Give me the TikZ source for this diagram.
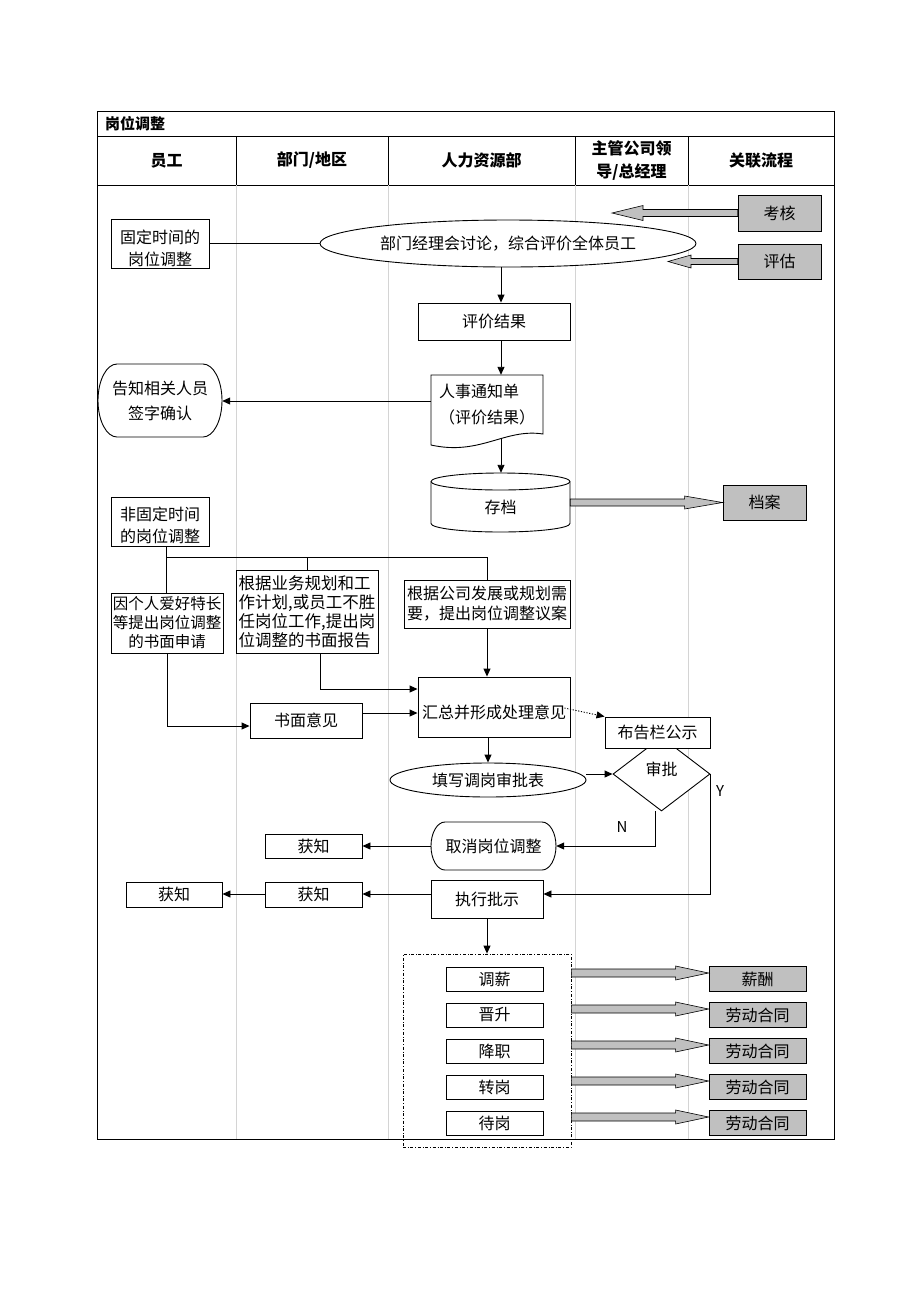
\documentclass[tikz,border=0pt]{standalone}
\usepackage{fontspec}
\setmainfont{Noto Sans CJK SC}
\usetikzlibrary{arrows.meta,shapes.geometric,shapes.misc,calc}
\definecolor{boxgray}{RGB}{192,192,192}
\definecolor{lanegray}{RGB}{212,212,212}
\newcommand\fsz[2]{\fontsize{#1pt}{#2pt}\selectfont}
\newcommand\fatR[5]{\draw[fat] let \p1=(#1), \p2=(#2) in (\x1,\y1+#3pt) -- (\x2-#5pt,\y1+#3pt) -- (\x2-#5pt,\y1+#4pt) -- (\x2,\y1) -- (\x2-#5pt,\y1-#4pt) -- (\x2-#5pt,\y1-#3pt) -- (\x1,\y1-#3pt) -- cycle;}
\newcommand\fatL[5]{\draw[fat] let \p1=(#1), \p2=(#2) in (\x1,\y1+#3pt) -- (\x2+#5pt,\y1+#3pt) -- (\x2+#5pt,\y1+#4pt) -- (\x2,\y1) -- (\x2+#5pt,\y1-#4pt) -- (\x2+#5pt,\y1-#3pt) -- (\x1,\y1-#3pt) -- cycle;}
% stadium-like shape: left x, right x, top y, bottom y, end x-radius
\newcommand\capsule[5]{\draw[ln, fill=white] ({#1+#5},#3) -- ({#2-#5},#3) arc[start angle=90, end angle=-90, x radius=#5pt, y radius={(#4-#3)/2*1pt}] -- ({#1+#5},#4) arc[start angle=270, end angle=90, x radius=#5pt, y radius={(#4-#3)/2*1pt}] -- cycle;}
\tikzset{
  bx/.style={draw, fill=white, line width=0.9pt, inner sep=0pt, align=center, font={\fsz{16}{22}}},
  gbx/.style={bx, fill=boxgray},
  ell/.style={bx, ellipse},
  ghost/.style={inner sep=0pt, align=center, font={\fsz{16}{22}}},
  arr/.style={line width=0.9pt, -{Triangle[length=8pt,width=7pt]}},
  ln/.style={line width=0.9pt},
  fat/.style={draw, fill=boxgray, line width=0.6pt},
  lane/.style={draw=lanegray, line width=0.7pt},
  hdr/.style={font={\fsz{16}{23}\bfseries}, align=center, inner sep=0pt},
  txt/.style={font={\fsz{16}{22}}, inner sep=0pt, align=center}
}
\begin{document}
\begin{tikzpicture}[x=1pt, y=-1pt]
\fill[white] (0,0) rectangle (920,1302);
\useasboundingbox (0,0) rectangle (920,1302);

% table
\draw[line width=0.8pt] (97,111) rectangle (834,1139);
\draw[line width=0.8pt] (97,136) -- (834,136);
\draw[line width=0.8pt] (97,185) -- (834,185);
\foreach \x in {236,388,575,688} {
  \draw[line width=0.8pt] (\x,136) -- (\x,185);
  \draw[lane] (\x,185) -- (\x,1139);
}
\node[font={\fsz{15}{18}\bfseries}, anchor=west, inner sep=0pt] (ttl) at (105,124) {岗位调整};
\node[hdr] (h1) at (166.5,160.5) {员工};
\node[hdr] (h2) at (312,160.5) {部门/地区};
\node[hdr] (h3) at (481.5,160.5) {人力资源部};
\node[hdr] (h4) at (631.5,160.5) {主管公司领\\导/总经理};
\node[hdr] (h5) at (761,160.5) {关联流程};

% top part
\node[bx, minimum width=98pt, minimum height=49pt] (fix) at (160,243.5) {};
\node[txt] (fixtx) at (160,248) {固定时间的\\岗位调整};
\node[ell, minimum width=376pt, minimum height=47pt] (ev) at (508,243.5) {部门经理会讨论，综合评价全体员工};
\draw[ln] (fix.east) -- (ev.west);
\node[gbx, minimum width=83pt, minimum height=36pt] (kh) at (779.5,213) {考核};
\node[gbx, minimum width=83pt, minimum height=35pt] (pg) at (779.5,261.5) {评估};
\coordinate (khtip) at (612,213);
\coordinate (pgtip) at (668,261.5);
\fatL{kh.west}{khtip}{3.5}{7.5}{31}
\fatL{pg.west}{pgtip}{3}{6.5}{23}

\coordinate (sp) at (501,0);
\node[bx, minimum width=152pt, minimum height=37pt] (res) at (494,321.5) {评价结果};
\draw[arr] (ev.south -| sp) -- (res.north -| sp);

\draw[ln, fill=white] (431,375) -- (543,375) -- (543,434) .. controls (505,428) and (480,456) .. (431,445) -- cycle;
\node[inner sep=0pt, minimum width=112pt, minimum height=70pt] (doc) at (487,410) {};
\node[txt, align=left, font={\fsz{16}{26}}] (doctx) at (487,405) {人事通知单\\（评价结果）};
\draw[arr] (res.south -| sp) -- (doc.north -| sp);

\capsule{98}{222}{364}{437}{19}
\node[ghost, minimum width=124pt, minimum height=73pt, font={\fsz{16}{25}}] (inf) at (160,401) {告知相关人员\\签字确认};
\draw[arr] (doc.west |- inf.east) -- (inf.east);

% storage cylinder
\draw[ln, fill=white] (431,481.5) -- (431,523.5) arc[start angle=180, end angle=360, x radius=69.5pt, y radius=8.5pt] -- (570,481.5) arc[start angle=0, end angle=180, x radius=69.5pt, y radius=8.5pt] -- cycle;
\draw[ln] (431,481.5) arc[start angle=180, end angle=360, x radius=69.5pt, y radius=8.5pt];
\node[inner sep=0pt, minimum width=139pt, minimum height=59pt] (store) at (500.5,502.5) {};
\node[txt] (storetx) at (500.5,507) {存档};
\coordinate (docb) at (501,438);
\draw[arr] (docb) -- (store.north -| sp);
\node[gbx, minimum width=83pt, minimum height=35pt] (arc) at (764.5,502.5) {档案};
\fatR{store.east |- arc.west}{arc.west}{3.5}{6.5}{38}

% non-fixed branch
\node[bx, minimum width=98pt, minimum height=49pt] (nf) at (160,521.5) {};
\node[txt] (nftx) at (160,525) {非固定时间\\的岗位调整};
\node[bx, minimum width=112pt, minimum height=60pt, font={\fsz{15.5}{19}}] (app) at (167,623) {因个人爱好特长\\等提出岗位调整\\的书面申请};
\node[bx, minimum width=142pt, minimum height=83pt, align=left, font={\fsz{16.5}{19}}] (rep) at (307,611.5) {根据业务规划和工\\作计划,或员工不胜\\任岗位工作,提出岗\\位调整的书面报告};
\node[bx, minimum width=166pt, minimum height=48pt, font={\fsz{16}{20}}] (prop) at (487,604) {根据公司发展或规划需\\要，提出岗位调整议案};
\coordinate (bus) at (166,557);
\draw[ln] (nf.south -| bus) -- (bus) -- (bus -| prop.north);
\draw[ln] (bus) -- (app.north -| bus);
\draw[ln] (bus -| rep.north) -- (rep.north);
\draw[ln] (bus -| prop.north) -- (prop.north);

\node[bx, minimum width=152pt, minimum height=60pt] (summ) at (494,707) {};
\node[txt] (summtx) at (494,712) {汇总并形成处理意见};
\draw[arr] (prop.south) -- (prop.south |- summ.north);
\coordinate (j1) at (320,689);
\draw[arr] (rep.south -| j1) |- (summ.west |- j1);
\node[bx, minimum width=112pt, minimum height=35pt] (op) at (306,720.5) {书面意见};
\coordinate (j2) at (167,726);
\draw[arr] (app.south -| j2) |- (op.west |- j2);
\coordinate (j3) at (0,713);
\draw[arr] (op.east |- j3) -- (summ.west |- j3);

% approval
\node[ell, minimum width=196pt, minimum height=34pt] (fill) at (488,780) {填写调岗审批表};
\draw[arr] (summ.south -| fill.north) -- (fill.north);
\node[draw, diamond, line width=0.9pt, fill=white, minimum width=97pt, minimum height=74pt, inner sep=0pt] (appr) at (661.5,774) {};
\node[txt] (apprt) at (661.5,769) {审批};
\node[bx, minimum width=105pt, minimum height=31pt] (pub) at (657.5,732.5) {布告栏公示};
\draw[arr, dash pattern=on 1.2pt off 1.6pt] ([xshift=-6pt, yshift=-1pt]summ.east) -- (pub.north west);
\draw[arr] (fill.east |- appr.west) -- (appr.west);

\capsule{431}{556}{822}{870}{14}
\node[ghost, minimum width=125pt, minimum height=48pt] (cancel) at (493.5,846) {取消岗位调整};
\coordinate (nx) at (655,846);
\draw[arr] (nx |- appr.south) |- (cancel.east);
\node[font={\fsz{15}{18}}, inner sep=0pt] (nl) at (622,827) {N};
\node[bx, minimum width=97pt, minimum height=24pt] (k1) at (313.5,846) {获知};
\draw[arr] (cancel.west) -- (k1.east);

\node[bx, minimum width=112pt, minimum height=38pt] (exec) at (487,899) {执行批示};
\coordinate (ey) at (0,894);
\draw[arr] (appr.east) |- (exec.east |- ey);
\node[font={\fsz{15}{18}}, inner sep=0pt] (yl) at (720,791) {Y};
\node[bx, minimum width=97pt, minimum height=25pt] (k2) at (313.5,894.5) {获知};
\node[bx, minimum width=96pt, minimum height=25pt] (k3) at (174,894.5) {获知};
\draw[arr] (exec.west |- ey) -- (k2.east |- ey);
\draw[arr] (k2.west |- ey) -- (k3.east |- ey);

% result group
\node[draw, dash dot, line width=0.8pt, minimum width=168pt, minimum height=193pt, inner sep=0pt] (grp) at (487,1050.5) {};
\draw[arr] (exec.south) -- (grp.north);
\foreach \i/\yy/\a/\b in {1/979/调薪/薪酬, 2/1015/晋升/劳动合同, 3/1051/降职/劳动合同, 4/1087/转岗/劳动合同, 5/1123/待岗/劳动合同} {
  \node[bx, minimum width=97pt, minimum height=24pt] (s\i) at (494.5,\yy) {\a};
  \node[gbx, minimum width=97pt, minimum height=25pt] (g\i) at (757.5,\yy) {\b};
  \coordinate (r\i) at (0,\yy-6);
  \fatR{grp.east |- r\i}{g\i.west |- r\i}{4}{7}{33}
}
\end{tikzpicture}
\end{document}
